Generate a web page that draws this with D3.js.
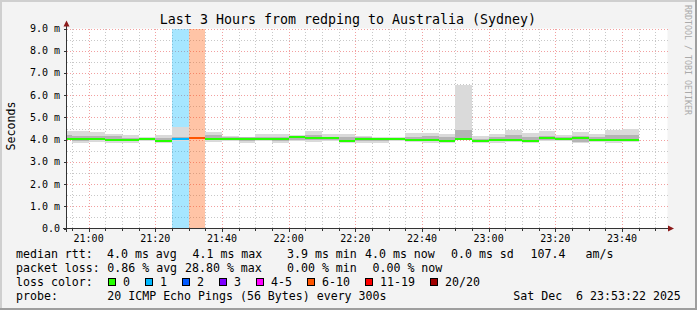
<!DOCTYPE html>
<html>
<head>
<meta charset="utf-8">
<script src="https://cdn.jsdelivr.net/npm/d3@7"></script>
<style>
	html, body { margin: 0; padding: 0; background: #fff; }
	svg { display: block; }
	text { font-family: "DejaVu Sans Mono", monospace; fill: #000; white-space: pre; }
</style>
</head>
<body>
<div id="smoke-chart"></div>
<script>
// 5 minute bins (values in ms)
const binTimes = ["20:50","20:55","21:00","21:05","21:10","21:15","21:20","21:25","21:30","21:35",
	"21:40","21:45","21:50","21:55","22:00","22:05","22:10","22:15","22:20","22:25",
	"22:30","22:35","22:40","22:45","22:50","22:55","23:00","23:05","23:10","23:15",
	"23:20","23:25","23:30","23:35","23:40"];

const medianRtt = [4.04,4.05,4.05,3.98,3.98,4.01,3.96,4.05,4.08,4.04,
	4.02,4.01,4.04,4.04,4.13,4.08,4.08,3.95,4.02,4.02,
	4.05,4.00,4.00,3.95,4.04,3.95,4.00,4.00,3.93,4.08,
	4.05,4.08,4.00,4.00,4.00];

const smokeMax = [4.38,4.38,4.34,4.25,4.20,4.13,4.20,4.58,4.10,4.34,
	4.17,4.13,4.25,4.25,4.20,4.39,4.25,4.25,4.17,4.13,
	4.13,4.28,4.28,4.26,6.45,4.17,4.25,4.43,4.28,4.38,
	4.20,4.34,4.25,4.43,4.50];

const smokeMin = [3.97,3.86,3.90,3.87,3.86,3.95,3.87,3.95,4.03,3.90,
	3.93,3.87,3.93,3.87,3.93,3.90,3.95,3.86,3.86,3.86,
	3.93,3.90,3.86,3.86,3.98,3.86,3.86,3.90,3.83,3.93,
	3.93,3.86,3.90,3.86,3.90];

const smokeInnerHi = [4.20,4.15,4.17,4.15,4.08,4.06,4.08,4.13,4.08,4.20,
	4.13,4.10,4.13,4.13,4.15,4.22,4.13,4.10,4.13,4.08,
	4.08,4.13,4.15,4.10,4.45,4.05,4.13,4.20,4.13,4.17,
	4.10,4.15,4.10,4.20,4.22];

const smokeInnerLo = [4.00,3.95,3.97,3.93,3.93,3.98,3.92,4.00,4.05,3.97,
	3.98,3.95,3.98,3.95,4.00,3.97,4.00,3.92,3.93,3.95,
	4.00,3.95,3.93,3.92,4.00,3.92,3.93,3.95,3.88,4.00,
	4.00,3.90,3.95,3.93,3.95];

// index into lossColors
const lossLevel = [0,0,0,0,0,0,0,1,5,0,
	0,0,0,0,0,0,0,0,0,0,
	0,0,0,0,0,0,0,0,0,0,
	0,0,0,0,0];

const lossColors = ["#26ff00","#00b8ff","#0059ff","#7e00ff","#ff00ff","#ff5500","#ff0000","#a00000"];
const lossLabels = ["0","1","2","3","4-5","6-10","11-19","20/20"];

const yTicks = [0,1,2,3,4,5,6,7,8,9];
const yTickLabels = ["0.0","1.0 m","2.0 m","3.0 m","4.0 m","5.0 m","6.0 m","7.0 m","8.0 m","9.0 m"];
const xTickLabels = ["21:00","21:20","21:40","22:00","22:20","22:40","23:00","23:20","23:40"];

const width = 697, height = 310;
const day = "2025-12-06T";
const parseTime = t => new Date(day + t + ":00");

const start = new Date(day + "20:53:22");
const end = new Date(day + "23:53:22");

let x = d3.scaleTime().domain([start, end]).range([66.5, 666.5]);
let y = d3.scaleLinear().domain([0, 9]).range([228.5, 28.5]);

let svg = d3.select("#smoke-chart").append("svg")
	.attr("width", width)
	.attr("height", height);

// frame with rrdtool style shading
svg.append("rect").attr("width", width).attr("height", height).attr("fill", "#9e9e9e");
svg.append("rect").attr("width", width - 2).attr("height", height - 2).attr("fill", "#cfcfcf");
svg.append("rect").attr("x", 2).attr("y", 2).attr("width", width - 4).attr("height", height - 4).attr("fill", "#f3f3f3");

// canvas
svg.append("rect")
	.attr("x", 66.5).attr("y", y(9))
	.attr("width", 601).attr("height", y(0) - y(9))
	.attr("fill", "#fff");

svg.append("defs").append("clipPath").attr("id", "plot-clip")
	.append("rect")
	.attr("x", 66.5).attr("y", y(9) - 1)
	.attr("width", 600).attr("height", y(0) - y(9) + 1);

// grid
let grid = svg.append("g").attr("shape-rendering", "crispEdges");
let minorY = d3.range(0.5, 9, 1);
let minorX = x.ticks(d3.timeMinute.every(5)).filter(d => d.getMinutes() % 20 !== 0);
let majorX = x.ticks(d3.timeMinute.every(20));

grid.selectAll(".minor-y").data(minorY).enter().append("line")
	.attr("x1", 66.5).attr("x2", 668)
	.attr("y1", d => Math.round(y(d)) + 0.5).attr("y2", d => Math.round(y(d)) + 0.5)
	.attr("stroke", "#c8c8c8").attr("stroke-dasharray", "1,2");

grid.selectAll(".minor-x").data(minorX).enter().append("line")
	.attr("x1", d => Math.round(x(d)) + 0.5).attr("x2", d => Math.round(x(d)) + 0.5)
	.attr("y1", y(9)).attr("y2", y(0))
	.attr("stroke", "#c8c8c8").attr("stroke-dasharray", "1,2");

grid.selectAll(".major-y").data(yTicks.slice(1)).enter().append("line")
	.attr("x1", 66.5).attr("x2", 668)
	.attr("y1", d => Math.round(y(d)) + 0.5).attr("y2", d => Math.round(y(d)) + 0.5)
	.attr("stroke", "#f2a0a0").attr("stroke-dasharray", "1,2");

grid.selectAll(".major-x").data(majorX).enter().append("line")
	.attr("x1", d => Math.round(x(d)) + 0.5).attr("x2", d => Math.round(x(d)) + 0.5)
	.attr("y1", y(9)).attr("y2", y(0))
	.attr("stroke", "#f2a0a0").attr("stroke-dasharray", "1,2");

// bins
let bins = binTimes.map((t, i) => {
	let t0 = parseTime(t);
	return {
		t0: t0,
		t1: d3.timeMinute.offset(t0, 5),
		median: medianRtt[i],
		min: smokeMin[i],
		max: smokeMax[i],
		lo: smokeInnerLo[i],
		hi: smokeInnerHi[i],
		loss: lossLevel[i]
	};
});

let plot = svg.append("g").attr("clip-path", "url(#plot-clip)").attr("shape-rendering", "crispEdges");

// loss background
plot.selectAll(".loss-bg").data(bins.filter(d => d.loss > 0)).enter().append("rect")
	.attr("x", d => x(d.t0)).attr("width", d => x(d.t1) - x(d.t0))
	.attr("y", y(9)).attr("height", y(0) - y(9))
	.attr("fill", d => lossColors[d.loss]).attr("fill-opacity", 0.35);

// smoke
plot.selectAll(".smoke-outer").data(bins).enter().append("rect")
	.attr("x", d => x(d.t0)).attr("width", d => x(d.t1) - x(d.t0))
	.attr("y", d => y(d.max)).attr("height", d => y(d.min) - y(d.max))
	.attr("fill", "#dadada");

plot.selectAll(".smoke-inner").data(bins).enter().append("rect")
	.attr("x", d => x(d.t0)).attr("width", d => x(d.t1) - x(d.t0))
	.attr("y", d => y(d.hi)).attr("height", d => y(d.lo) - y(d.hi))
	.attr("fill", "#b4b4b4");

// median line coloured by loss
plot.selectAll(".median").data(bins).enter().append("line")
	.attr("x1", d => x(d.t0)).attr("x2", d => x(d.t1))
	.attr("y1", d => y(d.median)).attr("y2", d => y(d.median))
	.attr("stroke", d => lossColors[d.loss])
	.attr("stroke-width", 2);

// axes
let axisColor = "#333";
let arrowColor = "#8b1a1a";
svg.append("line").attr("x1", 66.5).attr("x2", 66.5).attr("y1", y(0) + 3).attr("y2", 24)
	.attr("stroke", axisColor).attr("shape-rendering", "crispEdges");
svg.append("line").attr("x1", 63).attr("x2", 670).attr("y1", y(0)).attr("y2", y(0))
	.attr("stroke", axisColor).attr("shape-rendering", "crispEdges");
svg.append("path").attr("d", "M63.5,26.5 L66.5,20.5 L69.5,26.5 Z").attr("fill", arrowColor);
svg.append("path").attr("d", "M668,225.5 L674,228.5 L668,231.5 Z").attr("fill", arrowColor);

// ticks
let ticks = svg.append("g").attr("stroke", axisColor).attr("shape-rendering", "crispEdges");
ticks.selectAll(".ty").data(yTicks).enter().append("line")
	.attr("x1", 63.5).attr("x2", 66.5)
	.attr("y1", d => Math.round(y(d)) + 0.5).attr("y2", d => Math.round(y(d)) + 0.5);
ticks.selectAll(".txm").data(minorX).enter().append("line")
	.attr("x1", d => Math.round(x(d)) + 0.5).attr("x2", d => Math.round(x(d)) + 0.5)
	.attr("y1", y(0)).attr("y2", y(0) + 2);
ticks.selectAll(".tx").data(majorX).enter().append("line")
	.attr("x1", d => Math.round(x(d)) + 0.5).attr("x2", d => Math.round(x(d)) + 0.5)
	.attr("y1", y(0)).attr("y2", y(0) + 3);

// tick labels
svg.append("g").selectAll("text").data(yTicks).enter().append("text")
	.attr("x", 60).attr("y", d => y(d) + 3.5)
	.attr("text-anchor", "end")
	.style("font-size", "10px")
	.text((d, i) => yTickLabels[i]);

svg.append("g").selectAll("text").data(majorX).enter().append("text")
	.attr("x", d => x(d)).attr("y", 241.5)
	.attr("text-anchor", "middle")
	.style("font-size", "10px")
	.text((d, i) => xTickLabels[i]);

// title and side labels
svg.append("text")
	.attr("x", 348).attr("y", 23.5)
	.attr("text-anchor", "middle")
	.style("font-size", "13.3px")
	.text("Last 3 Hours from redping to Australia (Sydney)");

svg.append("text")
	.attr("transform", "translate(15,126) rotate(-90)")
	.attr("text-anchor", "middle")
	.style("font-size", "11.6px")
	.text("Seconds");

svg.append("text")
	.attr("transform", "translate(685,5) rotate(90)")
	.style("font-size", "8.3px")
	.style("fill", "#aaa")
	.text("RRDTOOL / TOBI OETIKER");

// legend
let legend = svg.append("g").style("font-size", "11.6px");
let legendRows = [
	[[16, "median rtt:"], [107, "4.0 ms avg"], [192.5, "4.1 ms max"], [287, "3.9 ms min"], [365, "4.0 ms now"], [451, "0.0 ms sd"], [530.5, "107.4"], [585.5, "am/s"]],
	[[16, "packet loss:"], [107.3, "0.86 % avg"], [185, "28.80 % max"], [287, "0.00 % min"], [372.5, "0.00 % now"]],
	[[16, "loss color:"]],
	[[16, "probe:"], [107.3, "20 ICMP Echo Pings (56 Bytes) every 300s"], [513.3, "Sat Dec  6 23:53:22 2025"]]
];
let rowY = [258, 272, 286, 299.5];

legendRows.forEach((row, r) => {
	row.forEach(cell => {
		legend.append("text").attr("x", cell[0]).attr("y", rowY[r]).text(cell[1]);
	});
});

let lx = 108;
lossLabels.forEach((label, i) => {
	legend.append("rect")
		.attr("x", lx + 0.5).attr("y", 278.5)
		.attr("width", 7).attr("height", 7)
		.attr("fill", lossColors[i])
		.attr("stroke", "#000");
	legend.append("text").attr("x", lx + 15).attr("y", rowY[2]).text(label);
	lx += 15 + label.length * 7 + 15;
});
</script>
</body>
</html>
